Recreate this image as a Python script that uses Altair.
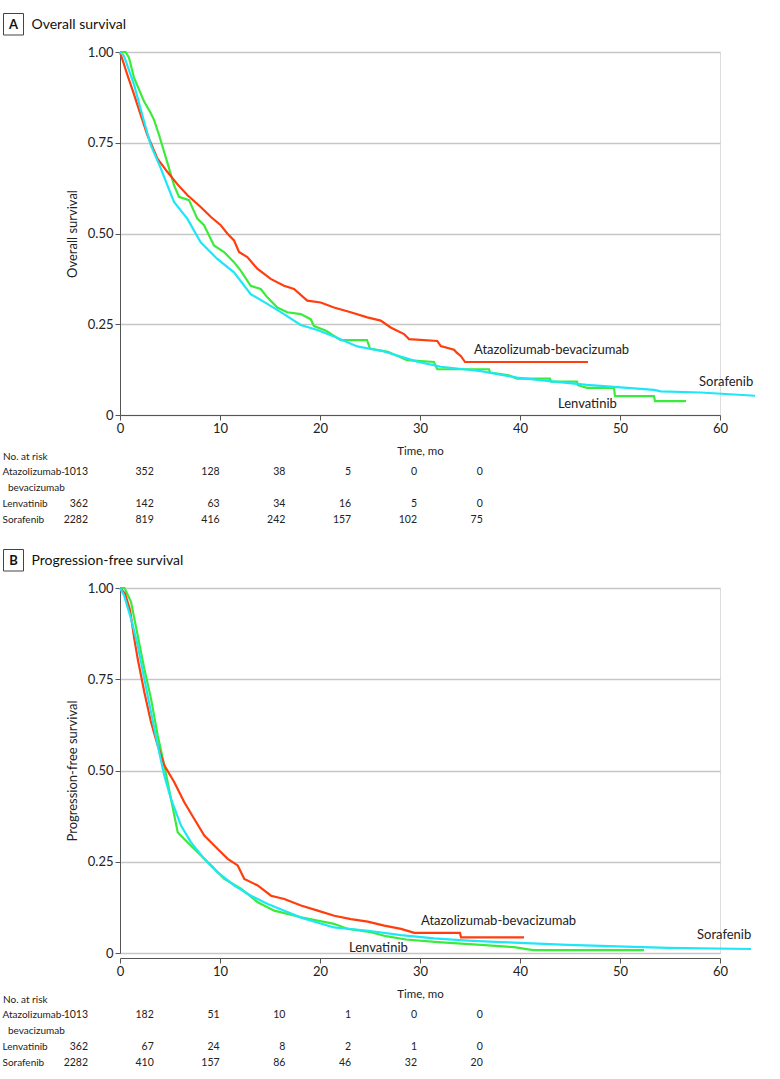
import altair as alt
import pandas as pd

# ---------------- data ----------------
ARMS = ["Atazolizumab-bevacizumab", "Lenvatinib", "Sorafenib"]
COLORS = ["#FF3D0D", "#3BEB3B", "#1DE7F7"]

# Panel A: overall survival (time in months, survival probability)
os_atezo_t = [0, 0.7, 1.4, 2.07, 2.73, 3.73, 4.73, 5.73, 6.73, 8.07, 9.07, 10.07, 10.73, 11.4, 11.9,
              12.73, 13.73, 15.07, 16.4, 17.4, 18.73, 20.07, 21.4, 23.07, 24.73, 26.07, 27.07, 28.4,
              28.9, 31.73, 32.07, 33.4, 33.7, 34.1, 34.5, 46.8]
os_atezo_s = [1, 0.94, 0.883, 0.827, 0.772, 0.707, 0.67, 0.636, 0.606, 0.573, 0.546, 0.523, 0.5, 0.481,
              0.449, 0.435, 0.403, 0.375, 0.356, 0.347, 0.315, 0.31, 0.296, 0.283, 0.269, 0.26, 0.241,
              0.223, 0.209, 0.204, 0.19, 0.18, 0.171, 0.162, 0.146, 0.146]
os_lenva_t = [0, 0.57, 0.9, 1.4, 2.4, 3.07, 3.4, 3.9, 4.4, 4.9, 5.4, 5.9, 6.9, 7.73, 8.4, 9.4, 10.4,
              11.4, 12.07, 13.07, 14.07, 14.73, 15.73, 16.73, 18.07, 19.07, 19.4, 20.6, 22.07, 24.7,
              25.0, 26.8, 28.7, 31.4, 31.73, 36.9, 37.0, 38.9, 39.7, 43.0, 43.1, 45.7, 45.8, 46.7,
              49.4, 49.5, 53.4, 53.5, 56.6]
os_lenva_s = [1, 1, 0.984, 0.929, 0.864, 0.832, 0.813, 0.772, 0.726, 0.68, 0.633, 0.601, 0.592, 0.541,
              0.523, 0.467, 0.449, 0.421, 0.398, 0.356, 0.347, 0.324, 0.296, 0.283, 0.278, 0.264, 0.245,
              0.232, 0.206, 0.206, 0.183, 0.174, 0.151, 0.146, 0.126, 0.126, 0.117, 0.109, 0.1, 0.1,
              0.092, 0.092, 0.082, 0.075, 0.075, 0.052, 0.052, 0.038, 0.038]
os_sora_t = [0, 0.4, 1.4, 2.4, 3.07, 4.07, 4.73, 5.4, 6.73, 8.07, 9.73, 11.4, 13.07, 14.73, 16.4, 18.07,
             19.73, 21.4, 23.73, 26.4, 29.73, 32.07, 36.1, 39.7, 43.4, 46.7, 50.07, 53.4, 54.07, 58.07,
             63.5]
os_sora_s = [1, 0.989, 0.91, 0.809, 0.744, 0.68, 0.633, 0.587, 0.541, 0.476, 0.43, 0.393, 0.333, 0.306,
             0.278, 0.248, 0.234, 0.216, 0.189, 0.175, 0.147, 0.133, 0.121, 0.103, 0.092, 0.083, 0.076,
             0.069, 0.065, 0.062, 0.053]

# Panel B: progression-free survival
pfs_atezo_t = [0, 0.5, 1.0, 1.43, 1.77, 2.43, 3.1, 3.77, 4.43, 5.43, 6.43, 7.43, 8.43, 9.77, 10.77,
               11.77, 12.43, 13.77, 15.1, 16.43, 18.1, 19.77, 21.43, 23.1, 24.77, 26.43, 28.1, 29.43,
               34.0, 34.1, 40.4]
pfs_atezo_s = [1, 0.985, 0.94, 0.861, 0.806, 0.715, 0.633, 0.569, 0.514, 0.468, 0.413, 0.367, 0.322,
               0.285, 0.258, 0.24, 0.203, 0.185, 0.157, 0.148, 0.13, 0.116, 0.102, 0.093, 0.086, 0.075,
               0.066, 0.055, 0.055, 0.043, 0.043]
pfs_lenva_t = [0, 0.45, 1.1, 1.77, 2.43, 3.1, 3.77, 4.43, 5.1, 5.77, 6.77, 8.1, 9.1, 10.43, 12.1, 13.77,
               15.43, 18.1, 21.4, 22.8, 25.1, 26.6, 28.6, 31.8, 36.1, 39.4, 41.3, 52.4]
pfs_lenva_s = [1, 1, 0.962, 0.87, 0.779, 0.697, 0.596, 0.514, 0.422, 0.331, 0.303, 0.267, 0.24, 0.203,
               0.176, 0.139, 0.116, 0.098, 0.08, 0.066, 0.057, 0.046, 0.037, 0.03, 0.022, 0.016, 0.008,
               0.008]
pfs_sora_t = [0, 0.4, 1.1, 1.77, 2.43, 3.1, 3.77, 4.43, 5.1, 6.1, 7.1, 8.43, 9.77, 11.43, 13.1, 14.77,
              16.43, 18.1, 21.4, 24.8, 28.1, 31.4, 34.8, 38.1, 44.8, 51.4, 54.8, 63.1]
pfs_sora_s = [1, 0.98, 0.916, 0.843, 0.751, 0.66, 0.569, 0.486, 0.422, 0.349, 0.303, 0.258, 0.221,
              0.185, 0.157, 0.134, 0.116, 0.097, 0.07, 0.061, 0.049, 0.04, 0.034, 0.03, 0.022, 0.017,
              0.014, 0.011]

# Curve labels (anchor at left edge of text, in data coordinates)
os_label_t = [35.4, 43.8, 57.9]
os_label_s = [0.179, 0.030, 0.092]
pfs_label_t = [30.1, 22.9, 57.7]
pfs_label_s = [0.089, 0.014, 0.049]

# Numbers at risk
risk_times = [0, 10, 20, 30, 40, 50, 60]
os_risk_atezo = [1013, 352, 128, 38, 5, 0, 0]
os_risk_lenva = [362, 142, 63, 34, 16, 5, 0]
os_risk_sora = [2282, 819, 416, 242, 157, 102, 75]
pfs_risk_atezo = [1013, 182, 51, 10, 1, 0, 0]
pfs_risk_lenva = [362, 67, 24, 8, 2, 1, 0]
pfs_risk_sora = [2282, 410, 157, 86, 46, 32, 20]

ROW_KEYS = ["header", "Atazolizumab-bevacizumab", "bev2", "Lenvatinib", "Sorafenib"]
ROW_TEXT = ["No. at risk", "Atazolizumab-", "bevacizumab", "Lenvatinib", "Sorafenib"]

# ---------------- style / layout ----------------
REG = "Lato"
PLOT_W = 600
GRID = "#c6c6c6"
AX = "#555555"
TAB_X0 = -32          # right edge of first at-risk column, relative to plot left
TAB_STEP = 65.8       # spacing between at-risk columns
ROW_TOP = 41.5        # header row below the x axis line
ROW_BOTTOM = 104.5    # last row below the x axis line
LABEL_X = -117
NAME_X = -117.5
SUB_X = -112
TAB_FS = 10.5
LAB_FS = 10


def panel(letter, title, ytitle, curves, labels, risk, plot_h, x_off):
    cdf = pd.concat(
        [pd.DataFrame({"arm": a, "t": t, "s": s, "i": range(len(t))}) for a, (t, s) in zip(ARMS, curves)]
    )
    ldf = pd.DataFrame({"arm": ARMS, "t": labels[0], "s": labels[1]})
    x = alt.X("t:Q", scale=alt.Scale(domain=[0, 60], nice=False, zero=False),
              axis=alt.Axis(values=risk_times, title="Time, mo", grid=False, offset=x_off,
                            domainColor=AX, tickColor=AX, tickSize=5, labelFontSize=13,
                            labelFont=REG, labelColor="#222", titleFont=REG, titleFontSize=11.5,
                            titleFontWeight="normal", titleColor="#222", titlePadding=10,
                            labelFlush=False))
    y = alt.Y("s:Q", scale=alt.Scale(domain=[0, 1], nice=False),
              axis=alt.Axis(values=[0, 0.25, 0.5, 0.75, 1.0],
                            labelExpr="datum.value == 0 ? '0' : format(datum.value, '.2f')",
                            title=ytitle, grid=True, gridColor=GRID, gridWidth=1.5,
                            domainColor=AX, tickColor=AX, tickSize=5, labelFontSize=13,
                            labelFont=REG, labelColor="#222", titleFont=REG, titleFontSize=13,
                            titleFontWeight="normal", titleColor="#222", titlePadding=8,
                            labelFlush=False))
    col = alt.Color("arm:N", scale=alt.Scale(domain=ARMS, range=COLORS), legend=None)
    layers = []
    for a in ["Lenvatinib", "Atazolizumab-bevacizumab", "Sorafenib"]:
        layers.append(
            alt.Chart(cdf[cdf.arm == a]).mark_line(strokeWidth=2.2, clip=False, interpolate="linear")
            .encode(x=x, y=y, color=col, order="i:Q")
        )
    lab = alt.Chart(ldf).mark_text(align="left", baseline="middle", font=REG, fontSize=13,
                                   color="#222").encode(x="t:Q", y="s:Q", text="arm:N")
    curves_layer = alt.layer(*layers, lab)

    # at-risk table
    rows = []
    for a, ns in zip(ARMS, risk):
        for t, n in zip(risk_times, ns):
            rows.append({"row": a, "t": t, "n": str(n)})
    rdf = pd.DataFrame(rows)
    tab_x = alt.X("t:Q", scale=alt.Scale(domain=[0, 60], range=[TAB_X0, TAB_X0 + 6 * TAB_STEP]),
                  axis=None)
    tab_y = alt.Y("row:N", scale=alt.Scale(type="point", domain=ROW_KEYS, padding=0,
                                           range=[plot_h + x_off + ROW_TOP, plot_h + x_off + ROW_BOTTOM]),
                  axis=None)
    nums = alt.Chart(rdf).mark_text(align="right", baseline="middle", font=REG, fontSize=TAB_FS,
                                    color="#222").encode(x=tab_x, y=tab_y, text="n:N")
    tdf = pd.DataFrame({"row": ROW_KEYS, "label": ROW_TEXT})
    lab_layers = []
    for keys, xv in [(["header"], LABEL_X), (["Atazolizumab-bevacizumab", "Lenvatinib", "Sorafenib"], NAME_X),
                     (["bev2"], SUB_X)]:
        lab_layers.append(
            alt.Chart(tdf[tdf.row.isin(keys)]).mark_text(align="left", baseline="middle", font=REG,
                                                         fontSize=LAB_FS, color="#222")
            .encode(x=alt.value(xv), y=tab_y, text="label:N")
        )
    table_layer = alt.layer(nums, *lab_layers)

    # panel heading: boxed letter + title
    hdf = pd.DataFrame({"letter": [letter], "title": [title]})
    box = alt.Chart(hdf).mark_rect(fill="white", stroke="#444", strokeWidth=1).encode(
        x=alt.value(-116.5), x2=alt.value(-96.5), y=alt.value(-38.5), y2=alt.value(-17))
    let = alt.Chart(hdf).mark_text(font=REG, fontSize=13, fontWeight="bold", color="#111",
                                   baseline="middle", align="center").encode(
        x=alt.value(-106.5), y=alt.value(-27.5), text="letter:N")
    tit = alt.Chart(hdf).mark_text(font=REG, fontSize=14, color="#111", baseline="middle",
                                   align="left").encode(x=alt.value(-88.5), y=alt.value(-27.5),
                                                        text="title:N")
    head = alt.layer(box, let, tit)

    return alt.layer(curves_layer, table_layer, head).resolve_scale(
        x="independent", y="independent").properties(width=PLOT_W, height=plot_h)


pA = panel("A", "Overall survival", "Overall survival",
           [(os_atezo_t, os_atezo_s), (os_lenva_t, os_lenva_s), (os_sora_t, os_sora_s)],
           (os_label_t, os_label_s), [os_risk_atezo, os_risk_lenva, os_risk_sora], 363, 0)
pB = panel("B", "Progression-free survival", "Progression-free survival",
           [(pfs_atezo_t, pfs_atezo_s), (pfs_lenva_t, pfs_lenva_s), (pfs_sora_t, pfs_sora_s)],
           (pfs_label_t, pfs_label_s), [pfs_risk_atezo, pfs_risk_lenva, pfs_risk_sora], 365, 5)

chart = alt.vconcat(pA, pB, spacing=22).properties(
    padding={"left": 2, "top": 12, "right": 5, "bottom": 5}
).configure_view(stroke=None).configure(background="white")

chart.save("out.html", embed_options={"renderer": "svg", "actions": False})
